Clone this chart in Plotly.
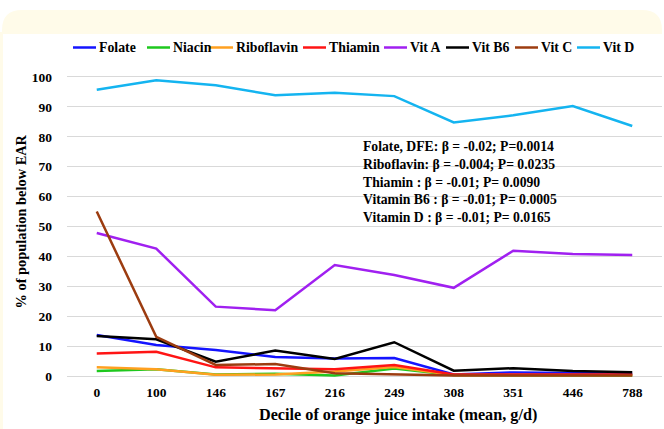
import plotly.graph_objects as go

categories = ["0", "100", "146", "167", "216", "249", "308", "351", "446", "788"]

folate     = [13.7, 10.4, 8.7, 6.4, 5.9, 6.0, 0.5, 1.2, 1.0, 0.8]
niacin     = [1.7, 2.3, 0.5, 0.8, 0.2, 2.5, 0.3, 0.2, 0.2, 0.2]
riboflavin = [2.9, 2.3, 0.4, 0.5, 1.5, 3.0, 0.3, 0.3, 0.3, 0.3]
thiamin    = [7.5, 8.1, 2.9, 2.6, 2.3, 3.7, 0.5, 0.5, 0.5, 0.5]
vit_a      = [47.8, 42.6, 23.2, 22.0, 37.1, 33.8, 29.5, 41.9, 40.8, 40.5]
vit_b6     = [13.4, 12.3, 4.8, 8.5, 5.7, 11.3, 1.8, 2.6, 1.7, 1.3]
vit_c      = [55.0, 13.1, 3.7, 4.0, 0.9, 0.5, 0.2, 0.2, 0.2, 0.2]
vit_d      = [95.7, 98.9, 97.2, 93.9, 94.7, 93.6, 84.8, 87.2, 90.3, 83.6]

series_names = ["Folate", "Niacin", "Riboflavin", "Thiamin", "Vit A", "Vit B6", "Vit C", "Vit D"]
series_vals = [folate, niacin, riboflavin, thiamin, vit_a, vit_b6, vit_c, vit_d]
colors = ["#1414ff", "#1ec81e", "#ffa020", "#ff1414", "#a020f0", "#000000", "#9c3c10", "#14b4f0"]

y_ticks = [0, 10, 20, 30, 40, 50, 60, 70, 80, 90, 100]

x_title = "Decile of orange juice intake (mean, g/d)"
y_title = "% of population below EAR"
stats_text = ("Folate, DFE: β = -0.02; P=0.0014<br>"
              "Riboflavin: β = -0.004; P= 0.0235<br>"
              "Thiamin : β = -0.01; P= 0.0090<br>"
              "Vitamin B6 : β = -0.01; P= 0.0005<br>"
              "Vitamin D : β = -0.01; P= 0.0165")

FONT = "Liberation Serif"

fig = go.Figure()
for name, vals, col in zip(series_names, series_vals, colors):
    fig.add_trace(go.Scatter(x=categories, y=vals, name=name, mode="lines",
                             line=dict(color=col, width=2.5), showlegend=False))

# frame geometry (pixels)
L, R, T, B = 67, 2, 71, 47
W, H = 664, 429
pw, ph = W - L - R, H - T - B

def px(x):
    return (x - L) / pw

def py(y):
    return (H - B - y) / ph

cream = "#fffbe9"
path = (f"M {px(2)},{py(34)} L {px(2)},{py(30)} Q {px(2)},{py(10)} {px(22)},{py(10)} "
        f"L {px(642)},{py(10)} Q {px(662)},{py(10)} {px(662)},{py(30)} L {px(662)},{py(34)} Z")
fig.add_shape(type="path", path=path, xref="paper", yref="paper",
              fillcolor=cream, line=dict(width=0), layer="below")
fig.add_shape(type="rect", xref="paper", yref="paper", x0=px(0), x1=px(3), y0=py(429), y1=py(32),
              fillcolor=cream, line=dict(width=0), layer="below")

# legend (drawn as line keys + text, laid out like the reference)
legend_x = [73, 147, 210, 303, 384, 446, 515, 577]
legend_y = 47.5
for name, col, lx in zip(series_names, colors, legend_x):
    fig.add_shape(type="line", xref="paper", yref="paper",
                  x0=px(lx), x1=px(lx + 23), y0=py(legend_y), y1=py(legend_y),
                  line=dict(color=col, width=2.5))
    fig.add_annotation(text=name, xref="paper", yref="paper", x=px(lx + 24), y=py(legend_y),
                       xanchor="left", yanchor="middle", showarrow=False,
                       font=dict(family=FONT, size=13.8, color="#000000", weight="bold"))

fig.add_annotation(text=stats_text, xref="paper", yref="paper", x=px(361), y=py(137),
                   xanchor="left", yanchor="top", align="left", showarrow=False,
                   font=dict(family=FONT, size=13.7, color="#000000", weight="bold"))

# axis titles
fig.add_annotation(text=x_title, xref="paper", yref="paper", x=px(397.5), y=py(415),
                   xanchor="center", yanchor="middle", showarrow=False,
                   font=dict(family=FONT, size=16.2, color="#000000", weight="bold"))
fig.add_annotation(text=y_title, xref="paper", yref="paper", x=px(20), y=py(221.5),
                   xanchor="center", yanchor="middle", showarrow=False, textangle=-90,
                   font=dict(family=FONT, size=14.4, color="#000000", weight="bold"))

fig.update_layout(
    width=W, height=H,
    margin=dict(l=L, r=R, t=T, b=B),
    paper_bgcolor="white", plot_bgcolor="white",
    font=dict(family=FONT, size=13, color="#000000", weight="bold"),
    showlegend=False,
    xaxis=dict(type="category", range=[-0.5, 9.5], showgrid=False, zeroline=False,
               showline=False, ticks="",
               tickfont=dict(family=FONT, size=13.5, weight="bold")),
    yaxis=dict(range=[-2, 102], tickvals=y_ticks, showgrid=True, gridcolor="#d9d9d9",
               gridwidth=1, zeroline=False, showline=False, ticks="",
               ticklabelstandoff=14,
               tickfont=dict(family=FONT, size=13.5, weight="bold")),
)

fig.write_html("out.html", config={"displayModeBar": False},
               post_script="document.body.style.margin='0px';")
